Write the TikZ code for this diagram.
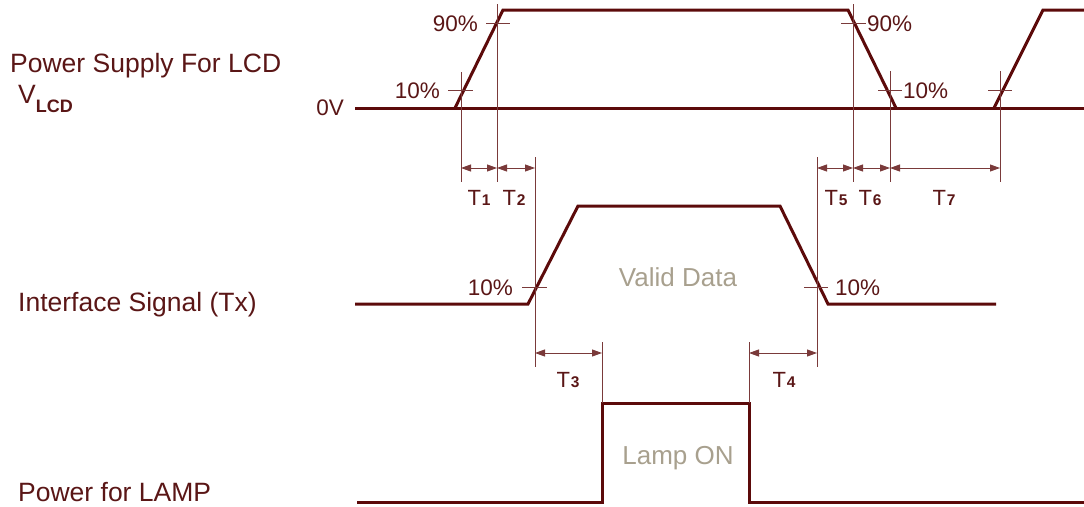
\documentclass[tikz,border=0pt]{standalone}
\usepackage{fontspec}
\setmainfont{Liberation Sans}
\usetikzlibrary{arrows.meta}
\definecolor{wave}{HTML}{5C0A0A}
\definecolor{txt}{HTML}{5A1616}
\definecolor{thin}{HTML}{7A3A3A}
\definecolor{greytxt}{HTML}{A8A08E}
\newcommand\tsub[1]{T\kern0.8pt{\fontsize{15.5}{15.5}\selectfont\bfseries #1}}
\begin{document}
\begin{tikzpicture}[x=1pt,y=-1pt,
  wavel/.style={draw=wave,line width=3pt,line join=miter},
  ext/.style={draw=thin,line width=0.9pt},
  dim/.style={draw=thin,line width=0.9pt,{Triangle[length=10pt,width=7pt]}-{Triangle[length=10pt,width=7pt]}},
  lbl/.style={text=txt,font=\fontsize{26.5}{30}\selectfont,inner sep=0pt},
  pct/.style={text=txt,font=\fontsize{22.5}{26}\selectfont,inner sep=0pt},
  tl/.style={text=txt,font=\fontsize{22}{24}\selectfont,inner sep=0pt},
  grey/.style={text=greytxt,font=\fontsize{26}{30}\selectfont,inner sep=0pt}]
\useasboundingbox (0,0) rectangle (1084,506);

% left labels
\node[lbl,anchor=base west] (ps) at (10,72) {Power Supply For LCD};
\node[lbl,anchor=base west] (vl) at (18,103) {V\raisebox{-9pt}{\fontsize{18}{18}\selectfont\bfseries LCD}};
\node[lbl,anchor=base west] (is) at (18,311) {Interface Signal (Tx)};
\node[lbl,anchor=base west] (pl) at (18,501) {Power for LAMP};
\node[pct,anchor=east] (zv) at (344,108) {0V};

% waveforms
\draw[wavel] (355,108) -- (1084,108);
\draw[wavel] (455,108) -- (503,10) -- (848,10) -- (896,108);
\draw[wavel] (994,108) -- (1043,10) -- (1084,10);
\draw[wavel] (355,304) -- (528,304) -- (578,206) -- (780,206) -- (828,304) -- (996,304);
\draw[wavel] (357,502) -- (602,502) -- (602,403) -- (749,403) -- (749,502) -- (1084,502);

% extension lines and ticks (top)
\draw[ext] (461,72) -- (461,182);
\draw[ext] (448,90) -- (473,90);
\draw[ext] (497,4) -- (497,182);
\draw[ext] (486,23) -- (510,23);
\draw[ext] (535,157) -- (535,367);
\draw[ext] (817,157) -- (817,367);
\draw[ext] (853,4) -- (853,182);
\draw[ext] (841,23) -- (866,23);
\draw[ext] (890,71) -- (890,182);
\draw[ext] (878,90) -- (902,90);
\draw[ext] (1000,71) -- (1000,182);
\draw[ext] (988,90) -- (1012,90);
% interface ticks
\draw[ext] (522,287) -- (547,287);
\draw[ext] (804,287) -- (828,287);
\draw[ext] (602,342) -- (602,403);
\draw[ext] (749,342) -- (749,403);

% dimension coordinates
\coordinate (d1) at (461,168);
\coordinate (d2) at (497,168);
\coordinate (d3) at (535,168);
\coordinate (d5) at (817,168);
\coordinate (d6) at (853,168);
\coordinate (d7) at (890,168);
\coordinate (d8) at (1000,168);
\coordinate (e1) at (535,353);
\coordinate (e2) at (602,353);
\coordinate (e3) at (749,353);
\coordinate (e4) at (817,353);
\draw[dim] (d1) -- (d2);
\draw[dim] (d2) -- (d3);
\draw[dim] (d5) -- (d6);
\draw[dim] (d6) -- (d7);
\draw[dim] (d7) -- (d8);
\draw[dim] (e1) -- (e2);
\draw[dim] (e3) -- (e4);

% T labels
\node[tl,anchor=base] (t1) at (479,205) {\tsub{1}};
\node[tl,anchor=base] (t2) at (514,205) {\tsub{2}};
\node[tl,anchor=base] (t5) at (836,205) {\tsub{5}};
\node[tl,anchor=base] (t6) at (870,205) {\tsub{6}};
\node[tl,anchor=base] (t7) at (944,205) {\tsub{7}};
\node[tl,anchor=base] (t3) at (568,387) {\tsub{3}};
\node[tl,anchor=base] (t4) at (784,387) {\tsub{4}};

% percentage labels
\node[pct,anchor=east] (p90a) at (478,24) {90\%};
\node[pct,anchor=east] (p10a) at (440,91) {10\%};
\node[pct,anchor=west] (p90b) at (867,24) {90\%};
\node[pct,anchor=west] (p10b) at (903,91) {10\%};
\node[pct,anchor=east] (p10c) at (513,288) {10\%};
\node[pct,anchor=west] (p10d) at (835,288) {10\%};

% grey labels
\node[grey,anchor=base] (vd) at (678,286) {Valid Data};
\node[grey,anchor=base] (lo) at (678,464) {Lamp ON};
\end{tikzpicture}
\end{document}
